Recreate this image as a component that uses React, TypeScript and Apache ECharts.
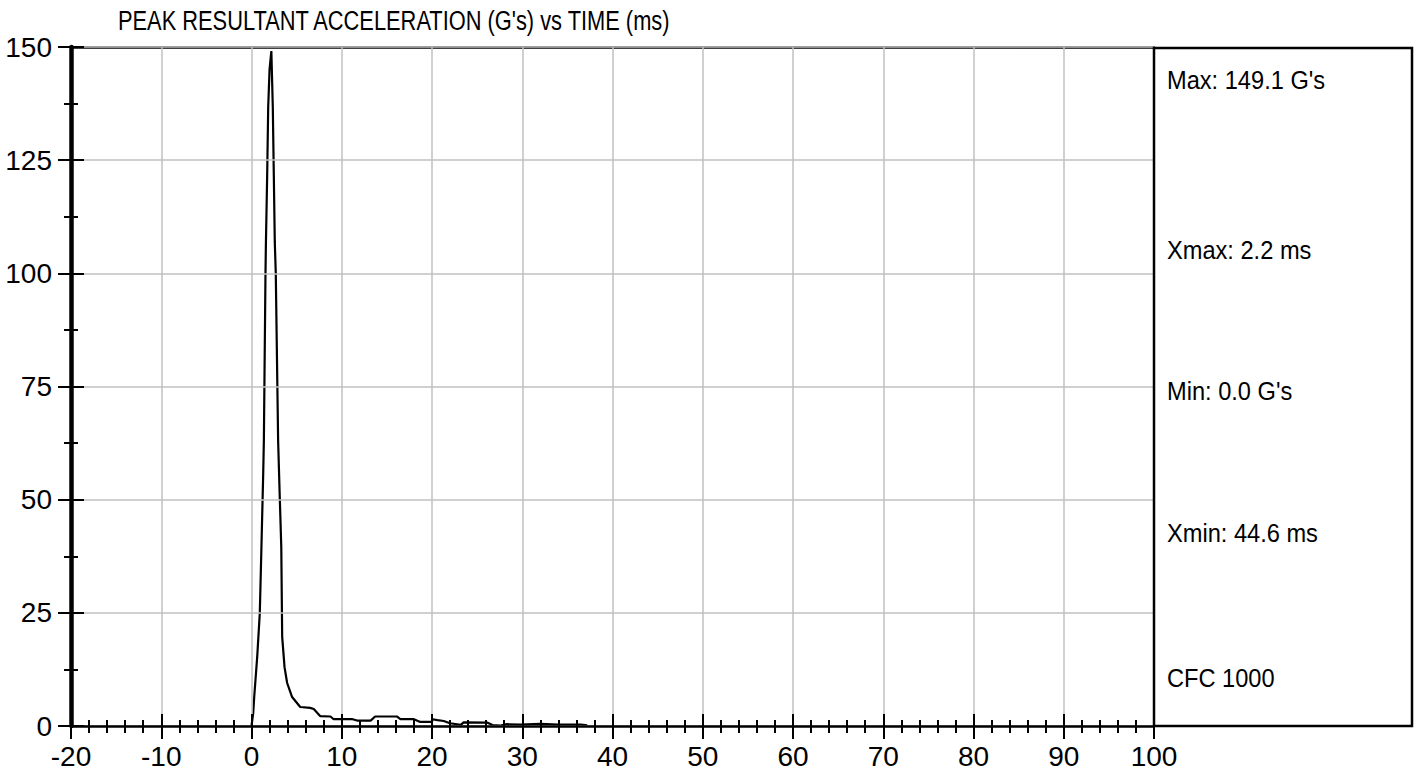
import React, { useEffect, useRef } from "react";
import * as echarts from "echarts";

const timeMs: number[] = [
  0, 0.19, 0.3, 0.63, 0.92, 1.1, 1.3, 1.37, 1.55, 1.6, 1.74, 1.85, 2.0, 2.2,
  2.36, 2.47, 2.58, 2.69, 2.95, 3.14, 3.3, 3.4, 3.66, 3.95, 4.5, 5.4, 6.5, 6.9,
  7.6, 8.75, 9.1, 11.2, 11.7, 13.2, 13.7, 16.1, 16.5, 18, 18.7, 20, 20.05, 20.6,
  21.3, 22, 23.2, 23.5, 26.1, 26.7, 27.6, 28.3, 29.8, 32, 34, 36.5, 37.2,
];
const accelG: number[] = [
  0, 2.9, 6.4, 15.2, 25, 39.5, 56, 63, 100, 107, 122, 136.7, 145, 149.1,
  136.7, 122, 107, 100, 63, 50, 39.5, 19.7, 13, 9.5, 6.4, 4.2, 4.0, 3.75,
  2.2, 2.1, 1.5, 1.5, 1.2, 1.2, 2.1, 2.1, 1.5, 1.5, 0.9, 0.9, 1.5, 1.3,
  1.1, 0.6, 0.25, 0.8, 0.75, 0.2, 0.1, 0.4, 0.3, 0.5, 0.3, 0.3, 0.15,
];

const titleText = "PEAK RESULTANT ACCELERATION (G's) vs TIME (ms)";
const statLabels: string[] = [
  "Max: 149.1 G's",
  "Xmax: 2.2 ms",
  "Min: 0.0 G's",
  "Xmin: 44.6 ms",
  "CFC 1000",
];
const statY: number[] = [80, 250, 391, 533, 678];

const X_MIN = -20;
const X_MAX = 100;
const X_STEP = 10;
const Y_MIN = 0;
const Y_MAX = 150;
const Y_STEP = 25;

const FONT = "'Liberation Sans', Arial, sans-serif";

export default function App() {
  const ref = useRef<HTMLDivElement>(null);
  useEffect(() => {
    if (!ref.current) return;
    const chart = echarts.init(ref.current, null, { renderer: "svg" });
    const black = "#000";
    const gray = "#c0c0c0";
    const baseX = { type: "value", min: X_MIN, max: X_MAX, interval: X_STEP, position: "bottom" };
    const baseY = { type: "value", min: Y_MIN, max: Y_MAX, interval: Y_STEP, position: "left" };
    chart.setOption({
      animation: false,
      backgroundColor: "#fff",
      grid: { left: 71, right: 267, top: 47, bottom: 57, containLabel: false },
      xAxis: [
        {
          ...baseX,
          axisLine: { show: true, onZero: false, lineStyle: { color: black, width: 2.5 } },
          axisTick: { show: true, inside: false, length: 13, lineStyle: { color: black, width: 2 } },
          minorTick: { show: true, splitNumber: 5, length: 7, lineStyle: { color: black, width: 2 } },
          axisLabel: { margin: 16, fontSize: 28, color: black, fontFamily: FONT },
          splitLine: { show: true, lineStyle: { color: gray, width: 1.5 } },
          z: 3,
        },
        {
          ...baseX,
          axisLine: { show: false, onZero: false },
          axisTick: { show: true, inside: true, length: 12, lineStyle: { color: black, width: 2 } },
          minorTick: { show: true, splitNumber: 5, length: 6, lineStyle: { color: black, width: 2 } },
          axisLabel: { show: false },
          splitLine: { show: false },
          z: 3,
        },
        {
          ...baseX,
          position: "top",
          axisLine: { show: true, onZero: false, lineStyle: { color: black, width: 2.5 } },
          axisTick: { show: false },
          minorTick: { show: false },
          axisLabel: { show: false },
          splitLine: { show: false },
        },
      ],
      yAxis: [
        {
          ...baseY,
          axisLine: { show: true, onZero: false, lineStyle: { color: black, width: 4.5 } },
          axisTick: { show: true, inside: false, length: 13, lineStyle: { color: black, width: 2 } },
          minorTick: { show: true, splitNumber: 2, length: 7, lineStyle: { color: black, width: 2 } },
          axisLabel: { margin: 19, fontSize: 28, color: black, fontFamily: FONT },
          splitLine: { show: true, lineStyle: { color: gray, width: 1.5 } },
          z: 3,
        },
        {
          ...baseY,
          axisLine: { show: false, onZero: false },
          axisTick: { show: true, inside: true, length: 13, lineStyle: { color: black, width: 2 } },
          minorTick: { show: true, splitNumber: 2, length: 7, lineStyle: { color: black, width: 2 } },
          axisLabel: { show: false },
          splitLine: { show: false },
          z: 3,
        },
      ],
      series: [
        {
          type: "line",
          xAxisIndex: 0,
          yAxisIndex: 0,
          data: timeMs.map((t, i) => [t, accelG[i]]),
          showSymbol: false,
          symbol: "none",
          lineStyle: { color: black, width: 2.2 },
          z: 2,
        },
      ],
      graphic: [
        {
          type: "text",
          x: 118,
          y: 20,
          scaleX: 0.78,
          z: 100,
          style: {
            text: titleText,
            fontSize: 28,
            fontFamily: FONT,
            fill: black,
            verticalAlign: "middle",
          },
        },
        {
          type: "rect",
          z: 100,
          shape: { x: 1154, y: 48, width: 258, height: 678 },
          style: { fill: "none", stroke: black, lineWidth: 2.5 },
        },
        ...statLabels.map((s, i) => ({
          type: "text",
          x: 1167,
          y: statY[i],
          scaleX: 0.945,
          z: 100,
          style: {
            text: s,
            fontSize: 25,
            fontFamily: FONT,
            fill: black,
            verticalAlign: "middle",
          },
        })),
      ],
    });
    return () => chart.dispose();
  }, []);
  return (
    <div
      ref={ref}
      style={{ position: "absolute", left: 0, top: 0, width: 1421, height: 783, background: "#fff" }}
    />
  );
}
